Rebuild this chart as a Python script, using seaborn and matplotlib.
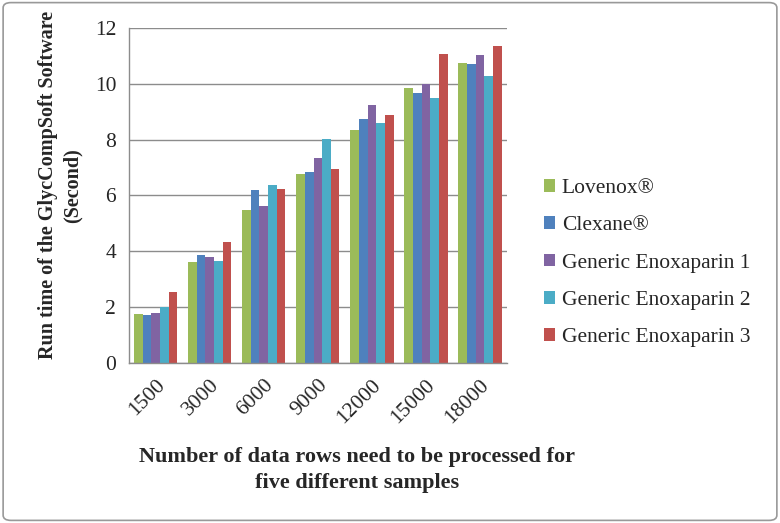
import matplotlib
matplotlib.use("Agg")
import matplotlib.pyplot as plt
import seaborn as sns
import pandas as pd
from matplotlib.patches import FancyBboxPatch, Patch

categories = ["1500", "3000", "6000", "9000", "12000", "15000", "18000"]
series_names = ["Lovenox\u00ae", "Clexane\u00ae", "Generic Enoxaparin 1",
                "Generic Enoxaparin 2", "Generic Enoxaparin 3"]
lovenox = [1.75, 3.63, 5.48, 6.77, 8.34, 9.84, 10.74]
clexane = [1.73, 3.87, 6.18, 6.85, 8.73, 9.65, 10.69]
generic1 = [1.80, 3.80, 5.62, 7.34, 9.25, 9.99, 11.01]
generic2 = [2.00, 3.67, 6.39, 8.01, 8.58, 9.49, 10.26]
generic3 = [2.54, 4.34, 6.22, 6.96, 8.87, 11.07, 11.36]
colors = ["#9BBB59", "#4F81BD", "#8064A2", "#4BACC6", "#C0504D"]

rows = []
for name, vals in zip(series_names, [lovenox, clexane, generic1, generic2, generic3]):
    for c, v in zip(categories, vals):
        rows.append({"cat": c, "series": name, "value": v})
df = pd.DataFrame(rows)

sns.set_style("white")
plt.rcParams["font.family"] = ["Liberation Serif", "DejaVu Serif"]

fig = plt.figure(figsize=(7.8, 5.23), dpi=100)
ax = fig.add_axes([0.165, 0.3054, 0.485, 0.6416])

sns.barplot(data=df, x="cat", y="value", hue="series", order=categories,
            hue_order=series_names, palette=colors, width=0.8,
            saturation=1, linewidth=0, ax=ax, legend=False)

ax.set_ylim(0, 12)
ax.set_yticks(range(0, 13, 2))
ax.set_xlim(-0.5, len(categories) - 0.5)
ax.yaxis.grid(True, color="#8c8c8c", linewidth=1)
ax.set_axisbelow(True)
for s in ["top", "right"]:
    ax.spines[s].set_visible(False)
for s in ["left", "bottom"]:
    ax.spines[s].set_color("#8c8c8c")
    ax.spines[s].set_linewidth(1)

# category boundary ticks on x axis
ax.set_xticks([i - 0.5 for i in range(len(categories) + 1)], minor=True)
ax.tick_params(axis="x", which="minor", length=5, color="#8c8c8c", width=1)
ax.tick_params(axis="x", which="major", length=0, labelsize=15.5, pad=9)
ax.tick_params(axis="y", length=5, color="#8c8c8c", width=1, labelsize=15.5, pad=4)
ax.set_xticks(range(len(categories)))
ax.set_xticklabels(categories, rotation=45, ha="right", rotation_mode="anchor")

ax.set_xlabel("Number of data rows need to be processed for\nfive different samples",
              fontsize=16, fontweight="bold", labelpad=14, linespacing=1.4)
ax.set_ylabel("Run time of the GlycCompSoft Software\n(Second)",
              fontsize=14.5, fontweight="bold", labelpad=10, linespacing=1.3)
ax.yaxis.set_label_coords(-0.123, 0.53)
ax.xaxis.set_label_coords(0.603, -0.25)

handles = [Patch(facecolor=c, edgecolor="none") for c in colors]
fig.legend(handles, series_names, loc="center left", bbox_to_anchor=(0.672, 0.497),
           frameon=False, fontsize=15.5, handlelength=0.55, handleheight=0.55,
           handletextpad=0.3, labelspacing=0.85)

border = FancyBboxPatch((0.004, 0.005), 0.992, 0.99, boxstyle="round,pad=0,rounding_size=0.01",
                        transform=fig.transFigure, fill=False, edgecolor="#999999", linewidth=1.2)
fig.patches.append(border)

fig.savefig("out.png", dpi=100)
